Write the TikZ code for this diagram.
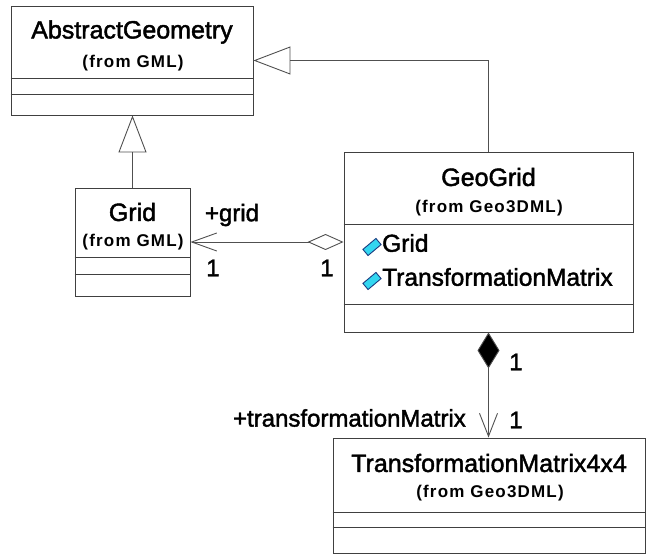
\documentclass[tikz,border=0pt]{standalone}
\usepackage{fontspec}
\setmainfont{Liberation Sans}
\newfontfamily\heavyfont[FakeBold=1.8]{Liberation Sans}
\newfontfamily\subfont[LetterSpace=7]{Liberation Sans Bold}
\usetikzlibrary{arrows.meta}
\definecolor{boxline}{HTML}{404040}
\definecolor{conline}{HTML}{505050}
\definecolor{iconfill}{HTML}{33D6F0}
\definecolor{iconline}{HTML}{1A3C80}
\begin{document}
\begin{tikzpicture}[x=1pt,y=-1pt,
  cls/.style={draw=boxline,line width=0.9pt,rectangle,inner sep=0pt,fill=white},
  sepline/.style={draw=boxline,line width=0.9pt},
  title/.style={font=\fontsize{25}{30}\heavyfont,inner sep=0pt},
  subtitle/.style={font=\fontsize{17}{21}\subfont,inner sep=0pt},
  attr/.style={font=\fontsize{24.5}{29}\heavyfont,inner sep=0pt,anchor=west},
  lbl/.style={font=\fontsize{24}{29}\heavyfont,inner sep=0pt},
  conn/.style={draw=conline,line width=0.9pt},
  gen/.style={conn,-{Triangle[open,length=37pt,width=28pt]}},
  icon/.style={rectangle,draw=iconline,fill=iconfill,line width=0.9pt,minimum width=17pt,minimum height=8pt,inner sep=0pt,rotate=40}
]
\useasboundingbox (0,0) rectangle (648,556);

% AbstractGeometry
\node[cls,minimum width=242pt,minimum height=109pt] (ag) at (132,60.5) {};
\draw[sepline] (ag.west |- 0,78) -- (ag.east |- 0,78);
\draw[sepline] (ag.west |- 0,94) -- (ag.east |- 0,94);
\node[title] (agT) at (132,32) {AbstractGeometry};
\node[subtitle] (agS) at (133,63) {(from GML)};

% Grid
\node[cls,minimum width=115pt,minimum height=108pt] (grid) at (132.5,242) {};
\draw[sepline] (grid.west |- 0,257) -- (grid.east |- 0,257);
\draw[sepline] (grid.west |- 0,274) -- (grid.east |- 0,274);
\node[title] (gridT) at (132.5,212) {Grid};
\node[subtitle] (gridS) at (133,242) {(from GML)};

% GeoGrid
\node[cls,minimum width=289pt,minimum height=179.5pt] (gg) at (488.5,242.25) {};
\draw[sepline] (gg.west |- 0,224) -- (gg.east |- 0,224);
\draw[sepline] (gg.west |- 0,304) -- (gg.east |- 0,304);
\node[title] (ggT) at (488.5,177) {GeoGrid};
\node[subtitle] (ggS) at (489,208) {(from Geo3DML)};
\node[icon] (ic1) at (372,247) {};
\node[attr] (a1) at (382,243) {Grid};
\node[icon] (ic2) at (372,281) {};
\node[attr] (a2) at (382,277) {TransformationMatrix};

% TransformationMatrix4x4
\node[cls,minimum width=312pt,minimum height=115pt] (tm) at (489,495.5) {};
\draw[sepline] (tm.west |- 0,512) -- (tm.east |- 0,512);
\draw[sepline] (tm.west |- 0,527) -- (tm.east |- 0,527);
\node[title] (tmT) at (489,463) {TransformationMatrix4x4};
\node[subtitle] (tmS) at (490,493) {(from Geo3DML)};

% generalizations
\draw[gen] (gg.north) |- (ag.east);
\draw[gen] (grid.north) -- (grid.north |- ag.south);

% aggregation
\draw[conn,{Diamond[open,length=36pt,width=16pt]}-{Straight Barb[length=25pt,width=18pt]}] (gg.west |- grid.east) -- (grid.east);
\node[lbl] (lgrid) at (232,215) {+grid};
\node[lbl] (m1) at (213,268) {1};
\node[lbl] (m2) at (327,268) {1};

% composition
\draw[conn,{Diamond[length=36pt,width=22pt,fill=black]}-{Straight Barb[length=23pt,width=18pt]}] (gg.south) -- (gg.south |- tm.north);
\node[lbl] (m3) at (516,362) {1};
\node[lbl] (m4) at (516,420) {1};
\node[lbl,anchor=east] (ltm) at (466,418) {+transformationMatrix};
\end{tikzpicture}
\end{document}
